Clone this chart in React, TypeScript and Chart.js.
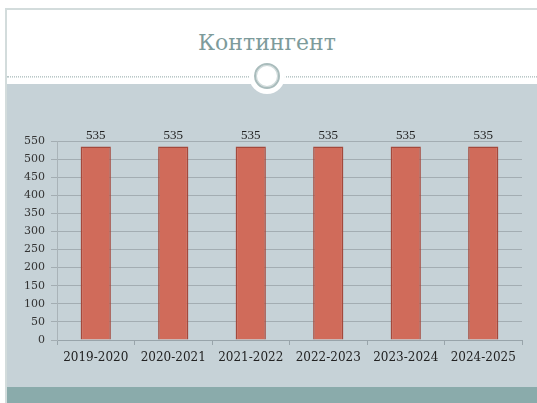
import React, { useEffect, useRef } from "react";
import { Chart, registerables } from "chart.js";

Chart.register(...registerables);

const titleText = "Контингент";
const categories = ["2019-2020", "2020-2021", "2021-2022", "2022-2023", "2023-2024", "2024-2025"];
const values = [535, 535, 535, 535, 535, 535];
const yMin = 0;
const yMax = 550;
const yStep = 50;

const labelPlugin = {
  id: "barValueLabels",
  afterDatasetsDraw(chart: any) {
    const ctx = chart.ctx;
    const meta = chart.getDatasetMeta(0);
    ctx.save();
    ctx.font = '13px "Liberation Serif"';
    ctx.fillStyle = "#222222";
    ctx.textAlign = "center";
    ctx.textBaseline = "bottom";
    meta.data.forEach((el: any, i: number) => {
      ctx.fillText(String(values[i]), el.x, el.y - 4);
    });
    ctx.restore();
  },
};

function BarChart() {
  const ref = useRef<HTMLCanvasElement | null>(null);
  useEffect(() => {
    if (!ref.current) return;
    const chart = new Chart(ref.current, {
      type: "bar",
      data: {
        labels: categories,
        datasets: [
          {
            data: values,
            backgroundColor: "#d06b5a",
            borderColor: "#a4493c",
            borderWidth: 1.5,
            barPercentage: 0.39,
            categoryPercentage: 1,
          },
        ],
      },
      options: {
        animation: false,
        responsive: false,
        maintainAspectRatio: false,
        layout: { padding: { top: 57, right: 15, bottom: 0, left: 0 } },
        plugins: {
          legend: { display: false },
          tooltip: { enabled: false },
          title: { display: false },
        },
        scales: {
          x: {
            afterFit: (s: any) => {
              s.height = 47;
            },
            grid: {
              offset: true,
              drawOnChartArea: false,
              drawTicks: true,
              tickLength: 5,
              color: "#98a4aa",
            },
            border: { display: true, color: "#98a4aa", width: 1 },
            ticks: {
              padding: 6,
              color: "#222222",
              font: { family: '"DejaVu Serif"', size: 12 },
              maxRotation: 0,
              autoSkip: false,
            },
          },
          y: {
            min: yMin,
            max: yMax,
            afterFit: (s: any) => {
              s.width = 50;
            },
            grid: {
              color: "#a3adb2",
              drawTicks: true,
              tickLength: 6,
            },
            border: { display: true, color: "#a9b3b8", width: 1 },
            ticks: {
              stepSize: yStep,
              padding: 6,
              color: "#333333",
              font: { family: '"DejaVu Serif"', size: 11 },
            },
          },
        },
      },
      plugins: [labelPlugin],
    });
    return () => chart.destroy();
  }, []);
  return (
    <canvas
      ref={ref}
      width={530}
      height={303}
      style={{ position: "absolute", left: 7, top: 84, width: 530, height: 303 }}
    />
  );
}

export default function App() {
  return (
    <div
      style={{
        position: "fixed",
        left: 0,
        top: 0,
        width: 537,
        height: 403,
        background: "#ffffff",
        overflow: "hidden",
      }}
    >
      {/* frame */}
      <div style={{ position: "absolute", left: 6, top: 8, width: 531, height: 2, background: "#d3dcdc" }} />
      <div style={{ position: "absolute", left: 5, top: 8, width: 2, height: 395, background: "#d3dcdc" }} />
      {/* title */}
      <div
        style={{
          position: "absolute",
          left: 7,
          top: 28,
          width: 520,
          textAlign: "center",
          fontFamily: '"DejaVu Serif"',
          fontSize: 22,
          color: "#7d9b9b",
          lineHeight: "30px",
        }}
      >
        {titleText}
      </div>
      {/* separator */}
      <div style={{ position: "absolute", left: 7, top: 76, width: 530, height: 2, borderTop: "1px dotted #b9c7c7", borderBottom: "1px dotted #d3dcdc", boxSizing: "border-box" }} />
      {/* gray band */}
      <div style={{ position: "absolute", left: 7, top: 84, width: 530, height: 303, background: "#c6d2d7" }} />
      {/* teal band */}
      <div style={{ position: "absolute", left: 7, top: 387, width: 530, height: 16, background: "#8aabab" }} />
      {/* circle ornament */}
      <div
        style={{
          position: "absolute",
          left: 267 - 18,
          top: 76 - 18,
          width: 36,
          height: 36,
          borderRadius: "50%",
          background: "#ffffff",
        }}
      />
      <div
        style={{
          position: "absolute",
          left: 267 - 13,
          top: 76 - 13,
          width: 26,
          height: 26,
          borderRadius: "50%",
          border: "2px solid #a9bcbc",
          boxShadow: "inset 0 0 0 1px #cfdada",
          boxSizing: "border-box",
          background: "#ffffff",
        }}
      />
      <BarChart />
    </div>
  );
}
